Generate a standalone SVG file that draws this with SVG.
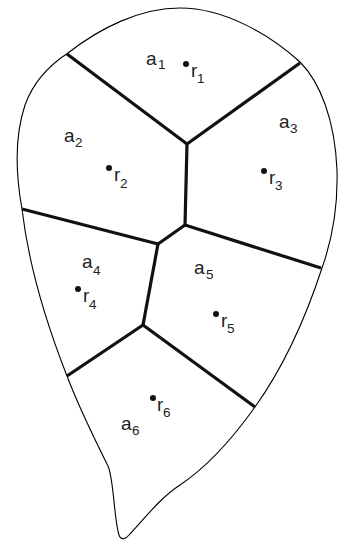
<svg xmlns="http://www.w3.org/2000/svg" width="339" height="540" viewBox="0 0 339 540">
<style>
.outline{fill:#fff;stroke:#000;stroke-width:1.1}
.edge{stroke:#111;stroke-width:3.2;stroke-linecap:butt;fill:none}
.lbl{font-family:"Liberation Sans",Arial,sans-serif;font-size:19px;fill:#222}
.sub{font-family:"Liberation Sans",Arial,sans-serif;font-size:13.5px;fill:#222}
.pt{fill:#111}
</style>
<rect width="339" height="540" fill="#fff"/>
<g id="outline">
<path class="outline" d="M 68,53 C 100,28 140,8 180,8 C 225,8 270,35 300,62 C 320,82 335,120 337,170 C 338,205 332,240 322,268 C 305,320 285,365 255,407 C 235,435 210,465 180,485 C 160,498 145,518 130,534 C 126,539 121,541 119,535 C 114,520 114,480 108,466 C 95,440 78,405 67,376 C 45,320 28,260 22,209 C 15,170 15,135 25,105 C 33,83 48,66 68,53 Z"/>
</g>
<g id="connectors">
<line class="edge" x1="67" y1="54" x2="187" y2="144"/>
<line class="edge" x1="300" y1="63" x2="187" y2="144"/>
<line class="edge" x1="187" y1="144" x2="185" y2="225"/>
<line class="edge" x1="185" y1="225" x2="321" y2="268"/>
<line class="edge" x1="185" y1="225" x2="158" y2="244"/>
<line class="edge" x1="158" y1="244" x2="22" y2="209"/>
<line class="edge" x1="158" y1="244" x2="143" y2="325"/>
<line class="edge" x1="143" y1="325" x2="67" y2="376"/>
<line class="edge" x1="143" y1="325" x2="255" y2="407"/>
</g>
<g id="region1">
<text class="lbl" x="146" y="65">a</text><text class="sub" x="158" y="69">1</text>
<circle class="pt" cx="186" cy="64" r="3"/>
<text class="lbl" x="191" y="77">r</text><text class="sub" x="197" y="83">1</text>
</g>
<g id="region2">
<text class="lbl" x="64" y="142">a</text><text class="sub" x="75" y="147">2</text>
<circle class="pt" cx="109" cy="168" r="3"/>
<text class="lbl" x="114" y="181">r</text><text class="sub" x="120" y="188">2</text>
</g>
<g id="region3">
<text class="lbl" x="279" y="128">a</text><text class="sub" x="290" y="133">3</text>
<circle class="pt" cx="264" cy="171" r="3"/>
<text class="lbl" x="269" y="184">r</text><text class="sub" x="275" y="190">3</text>
</g>
<g id="region4">
<text class="lbl" x="82" y="268">a</text><text class="sub" x="93" y="275">4</text>
<circle class="pt" cx="78" cy="289" r="3"/>
<text class="lbl" x="83" y="302">r</text><text class="sub" x="89" y="309">4</text>
</g>
<g id="region5">
<text class="lbl" x="194" y="274">a</text><text class="sub" x="206" y="279">5</text>
<circle class="pt" cx="216" cy="314" r="3"/>
<text class="lbl" x="221" y="327">r</text><text class="sub" x="227" y="333">5</text>
</g>
<g id="region6">
<text class="lbl" x="121" y="430">a</text><text class="sub" x="132" y="435">6</text>
<circle class="pt" cx="153" cy="398" r="3"/>
<text class="lbl" x="157" y="411">r</text><text class="sub" x="163" y="417">6</text>
</g>
</svg>
